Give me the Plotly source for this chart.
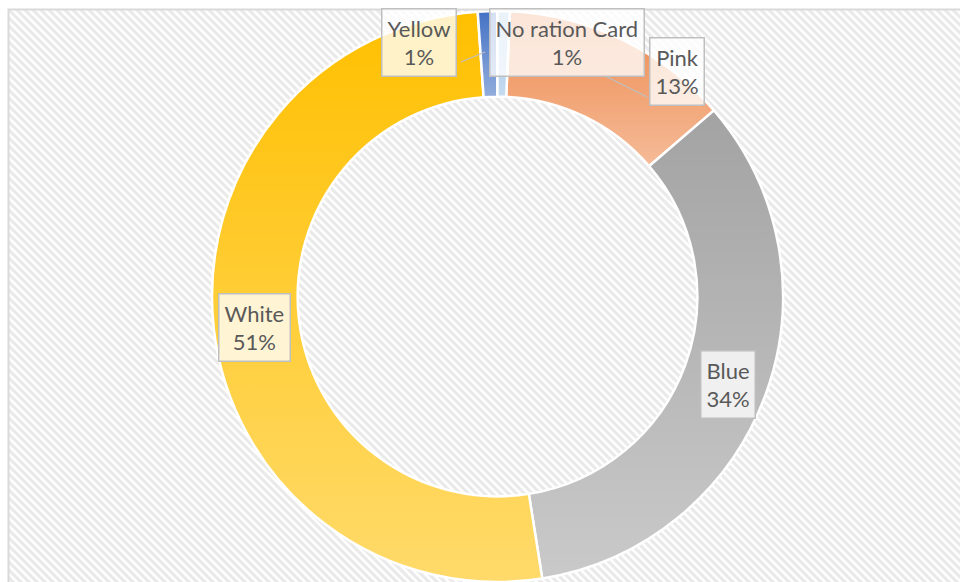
import math
import base64
import plotly.graph_objects as go

# ---------------- data ----------------
labels = ["Pink", "Blue", "White", "Yellow", "No ration Card"]
values = [13.0, 33.8, 51.4, 1.1, 0.7]
colors = ["#ee8a4e", "#a3a3a3", "#ffc000", "#4472c4", "#9dc3e6"]

# ---------------- geometry / style (screen pixels) ----------------
W, H = 960, 582
CX, TOP, BOT = 497.5, 11, 582
R = (BOT - TOP) / 2
CY = TOP + R
HOLE = 0.70
ROT = 2.5

def px(x):
    return x / W

def py(y):
    return 1 - y / H

# label box centres (screen pixels) in the same order as labels
label_pos = [(677, 71), (728, 384), (254, 327), (419, 43), (567, 43)]

fig = go.Figure()
fig.add_trace(go.Pie(
    labels=labels, values=values, sort=False, direction="clockwise",
    rotation=ROT, hole=HOLE, textinfo="none", hoverinfo="label+percent",
    marker=dict(colors=colors, line=dict(color="white", width=2.5)),
    domain=dict(x=[px(CX - 300), px(CX + 300)], y=[py(BOT), py(TOP)]),
    showlegend=False,
))

# ---------- hatched background (SVG pattern) ----------
bx0, by0 = 9, 10
bw, bh = W - bx0, H - by0
bg_svg = f'''<svg xmlns="http://www.w3.org/2000/svg" width="{bw}" height="{bh}" viewBox="0 0 {bw} {bh}">
<defs><pattern id="p" width="8" height="8" patternUnits="userSpaceOnUse">
<rect width="8" height="8" fill="#ffffff"/>
<path d="M-2,-2 L10,10 M-2,6 L2,10 M6,-2 L10,2" stroke="#eaeaea" stroke-width="3.2"/>
</pattern></defs>
<rect width="{bw}" height="{bh}" fill="url(#p)"/></svg>'''
bg_uri = "data:image/svg+xml;base64," + base64.b64encode(bg_svg.encode()).decode()

# ---------- per-slice gradient shading overlay (derived from data) ----------
total = sum(values)
r_in = R * HOLE
paths = []
ang = ROT
for v in values:
    a0 = ang
    a1 = ang + v / total * 360
    ang = a1
    t0, t1 = math.radians(a0), math.radians(a1)
    large = 1 if (a1 - a0) > 180 else 0
    ox0, oy0 = CX + R * math.sin(t0), CY - R * math.cos(t0)
    ox1, oy1 = CX + R * math.sin(t1), CY - R * math.cos(t1)
    ix0, iy0 = CX + r_in * math.sin(t0), CY - r_in * math.cos(t0)
    ix1, iy1 = CX + r_in * math.sin(t1), CY - r_in * math.cos(t1)
    d = (f"M{ox0:.2f},{oy0:.2f} A{R:.2f},{R:.2f} 0 {large} 1 {ox1:.2f},{oy1:.2f} "
         f"L{ix1:.2f},{iy1:.2f} A{r_in:.2f},{r_in:.2f} 0 {large} 0 {ix0:.2f},{iy0:.2f} Z")
    paths.append(f'<path d="{d}" fill="url(#g)"/>')

ov_svg = f'''<svg xmlns="http://www.w3.org/2000/svg" width="{W}" height="{H}" viewBox="0 0 {W} {H}">
<defs><linearGradient id="g" x1="0" y1="0" x2="0" y2="1">
<stop offset="0" stop-color="#ffffff" stop-opacity="0"/>
<stop offset="1" stop-color="#ffffff" stop-opacity="0.42"/>
</linearGradient></defs>
{''.join(paths)}</svg>'''
ov_uri = "data:image/svg+xml;base64," + base64.b64encode(ov_svg.encode()).decode()

fig.update_layout(images=[
    dict(source=bg_uri, xref="paper", yref="paper", x=bx0 / W, y=1 - by0 / H,
         sizex=bw / W, sizey=bh / H, xanchor="left", yanchor="top",
         sizing="stretch", layer="below"),
    dict(source=ov_uri, xref="paper", yref="paper", x=0, y=1,
         sizex=1, sizey=1, xanchor="left", yanchor="top",
         sizing="stretch", layer="above"),
])

# ---------- chart border and leader lines ----------
lc = dict(color="#bfbfbf", width=1.2)
shapes = [
    dict(type="rect", xref="paper", yref="paper", x0=px(8.5), y0=py(H + 30),
         x1=px(W + 30), y1=py(9.5), line=dict(color="#d9d9d9", width=2),
         fillcolor="rgba(0,0,0,0)", layer="above"),
    dict(type="line", xref="paper", yref="paper", x0=px(461), y0=py(51),
         x1=px(485), y1=py(49), line=lc, layer="below"),
    dict(type="line", xref="paper", yref="paper", x0=px(461), y0=py(62),
         x1=px(485), y1=py(52), line=lc, layer="above"),
    dict(type="line", xref="paper", yref="paper", x0=px(605), y0=py(76),
         x1=px(647), y1=py(97), line=lc, layer="above"),
]

annotations = []
for lab, v, (lx, ly) in zip(labels, values, label_pos):
    pct = round(v / total * 100)
    annotations.append(dict(
        x=px(lx), y=py(ly), xref="paper", yref="paper",
        text=f"{lab}<br>{pct}%", showarrow=False, align="center",
        xanchor="center", yanchor="middle",
        font=dict(family="Lato, Calibri, sans-serif", size=22, color="#595959"),
        bgcolor="rgba(255,255,255,0.78)", bordercolor="#bfbfbf",
        borderwidth=1.5, borderpad=5,
    ))

fig.update_layout(
    width=W, height=H,
    margin=dict(l=0, r=0, t=0, b=0),
    paper_bgcolor="white",
    shapes=shapes,
    annotations=annotations,
)

fig.write_html(
    "out.html",
    config={"displayModeBar": False},
    post_script="document.body.style.margin='0';"
                "document.body.style.overflow='hidden';"
                "document.documentElement.style.overflow='hidden';",
)
